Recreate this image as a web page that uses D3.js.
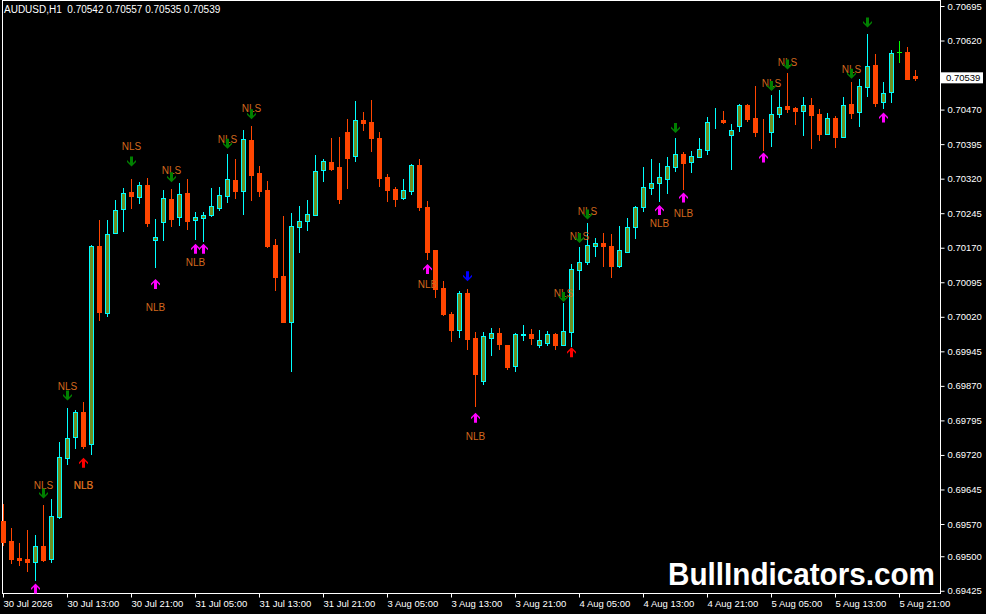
<!DOCTYPE html>
<html><head><meta charset="utf-8">
<script src="https://cdn.jsdelivr.net/npm/d3@7"></script>
<style>html,body{margin:0;padding:0;background:#000;overflow:hidden}</style>
</head><body>
<svg id="c" width="986" height="614"></svg>
<script>
const symbolTitle = "AUDUSD,H1  0.70542 0.70557 0.70535 0.70539";
const watermark = "BullIndicators.com";
const currentPrice = 0.70539;

const xTickBars = [0,8,16,24,32,40,48,56,64,72,80,88,96,104,112];
const xTickLabels = ["30 Jul 2026","30 Jul 13:00","30 Jul 21:00","31 Jul 05:00","31 Jul 13:00","31 Jul 21:00","3 Aug 05:00","3 Aug 13:00","3 Aug 21:00","4 Aug 05:00","4 Aug 13:00","4 Aug 21:00","5 Aug 05:00","5 Aug 13:00","5 Aug 21:00"];
const yTickValues = [0.70695,0.70620,0.70470,0.70395,0.70320,0.70245,0.70170,0.70095,0.70020,0.69945,0.69870,0.69795,0.69720,0.69645,0.69570,0.69500,0.69425];

const opens = [0.69577,0.69533,0.69496,0.69494,0.69488,0.69522,0.69494,0.69586,0.69714,0.69758,
0.69813,0.69744,0.70174,0.70029,0.70202,0.70254,0.70291,0.70281,0.70306,0.70186,
0.70225,0.70276,0.70236,0.70289,0.70231,0.70235,0.70240,0.70257,0.70283,0.70317,
0.70294,0.70404,0.70332,0.70295,0.70176,0.70109,0.70009,0.70214,0.70227,0.70242,
0.70338,0.70356,0.70345,0.70421,0.70370,0.70447,0.70443,0.70408,0.70324,0.70298,
0.70279,0.70294,0.70350,0.70258,0.70165,0.70083,0.70027,0.69992,0.70072,0.69974,
0.69881,0.69975,0.69985,0.69959,0.69914,0.69981,0.69983,0.69959,0.69964,0.69983,
0.69959,0.69986,0.70122,0.70138,0.70174,0.70180,0.70174,0.70131,0.70161,0.70214,
0.70259,0.70300,0.70311,0.70320,0.70346,0.70374,0.70357,0.70368,0.70383,0.70445,
0.70447,0.70415,0.70435,0.70481,0.70452,0.70424,0.70421,0.70460,0.70477,0.70473,
0.70468,0.70479,0.70460,0.70418,0.70451,0.70411,0.70482,0.70464,0.70518,0.70567,
0.70486,0.70508,0.70594,0.70595,0.70542];
const highs = [0.69613,0.69561,0.69529,0.69557,0.69546,0.69611,0.69624,0.69748,0.69822,0.69818,
0.69835,0.70176,0.70230,0.70230,0.70274,0.70300,0.70319,0.70313,0.70321,0.70232,
0.70295,0.70298,0.70310,0.70319,0.70248,0.70248,0.70300,0.70302,0.70374,0.70363,
0.70426,0.70434,0.70347,0.70315,0.70189,0.70239,0.70245,0.70261,0.70274,0.70371,
0.70363,0.70408,0.70410,0.70450,0.70489,0.70465,0.70491,0.70421,0.70330,0.70302,
0.70319,0.70352,0.70363,0.70271,0.70165,0.70098,0.70030,0.70076,0.70080,0.69987,
0.69986,0.69996,0.69996,0.69959,0.69984,0.70002,0.69994,0.69991,0.69989,0.69985,
0.70050,0.70135,0.70172,0.70224,0.70191,0.70202,0.70200,0.70217,0.70235,0.70260,
0.70345,0.70363,0.70354,0.70367,0.70408,0.70378,0.70380,0.70408,0.70454,0.70473,
0.70467,0.70438,0.70483,0.70483,0.70521,0.70450,0.70501,0.70513,0.70549,0.70476,
0.70497,0.70495,0.70471,0.70462,0.70456,0.70497,0.70530,0.70536,0.70634,0.70591,
0.70531,0.70600,0.70619,0.70605,0.70557];
const lows = [0.69524,0.69486,0.69481,0.69468,0.69448,0.69490,0.69488,0.69584,0.69701,0.69734,
0.69736,0.69723,0.70014,0.70022,0.70202,0.70207,0.70257,0.70267,0.70217,0.70129,
0.70187,0.70218,0.70220,0.70211,0.70189,0.70185,0.70239,0.70252,0.70270,0.70279,
0.70243,0.70274,0.70282,0.70172,0.70078,0.70008,0.69903,0.70161,0.70209,0.70240,
0.70316,0.70339,0.70268,0.70300,0.70359,0.70426,0.70380,0.70303,0.70272,0.70261,
0.70276,0.70287,0.70253,0.70146,0.70062,0.70024,0.69968,0.69977,0.69951,0.69827,
0.69874,0.69936,0.69950,0.69907,0.69902,0.69970,0.69962,0.69954,0.69959,0.69951,
0.69958,0.69957,0.70081,0.70135,0.70152,0.70131,0.70107,0.70129,0.70160,0.70192,
0.70250,0.70287,0.70271,0.70289,0.70337,0.70298,0.70334,0.70366,0.70374,0.70430,
0.70441,0.70342,0.70424,0.70446,0.70413,0.70382,0.70392,0.70453,0.70465,0.70439,
0.70415,0.70387,0.70405,0.70417,0.70389,0.70410,0.70452,0.70435,0.70500,0.70478,
0.70474,0.70487,0.70573,0.70536,0.70535];
const closes = [0.69531,0.69494,0.69492,0.69488,0.69522,0.69492,0.69587,0.69716,0.69757,0.69813,
0.69739,0.70174,0.70031,0.70200,0.70252,0.70289,0.70283,0.70306,0.70224,0.70193,
0.70278,0.70233,0.70286,0.70229,0.70237,0.70241,0.70261,0.70284,0.70319,0.70293,
0.70406,0.70328,0.70293,0.70174,0.70107,0.70009,0.70217,0.70227,0.70243,0.70337,
0.70358,0.70341,0.70276,0.70365,0.70447,0.70441,0.70408,0.70322,0.70296,0.70276,
0.70295,0.70350,0.70259,0.70161,0.70081,0.70025,0.69992,0.70071,0.69972,0.69896,
0.69978,0.69984,0.69960,0.69911,0.69983,0.69982,0.69975,0.69970,0.69983,0.69959,
0.69989,0.70124,0.70139,0.70177,0.70180,0.70174,0.70130,0.70165,0.70215,0.70258,
0.70302,0.70311,0.70324,0.70347,0.70374,0.70355,0.70369,0.70384,0.70443,0.70446,
0.70442,0.70426,0.70481,0.70450,0.70422,0.70423,0.70460,0.70475,0.70472,0.70468,
0.70479,0.70458,0.70418,0.70451,0.70410,0.70480,0.70463,0.70521,0.70564,0.70485,
0.70506,0.70593,0.70594,0.70537,0.70539];

// signal arrows: bar index, price, kind
const arrowBars   = [5,8,16,21,28,31,70,72,73,84,96,98,106,108, 4,19,24,25,53,59,82,85,95,110, 10,71, 58];
const arrowPrices = [0.69636,0.69849,0.70357,0.70323,0.70396,0.70460,0.70063,0.70191,0.70242,0.70430,0.70521,0.70568,0.70548,0.70659,
                     0.69430,0.70091,0.70168,0.70168,0.70124,0.69801,0.70252,0.70279,0.70366,0.70453,
                     0.69703,0.69943, 0.70108];
const arrowKinds  = ["sell","sell","sell","sell","sell","sell","sell","sell","sell","sell","sell","sell","sell","sell",
                     "buy","buy","buy","buy","buy","buy","buy","buy","buy","buy",
                     "buyRed","buyRed","sellBlue"];

// text labels: bar index, price, text
const labelBars   = [5,8,10,10,16,21,19,24,28,31,53,59,70,72,73,82,85,96,98,106];
const labelPrices = [0.69653,0.69868,0.69653,0.69653,0.70390,0.70338,0.70041,0.70137,0.70404,0.70473,0.70091,0.69761,0.70070,0.70195,0.70248,0.70222,0.70245,0.70526,0.70573,0.70557];
const labelTexts  = ["NLS","NLS","NLS","NLB","NLS","NLS","NLB","NLB","NLS","NLS","NLB","NLB","NLS","NLS","NLS","NLB","NLB","NLS","NLS","NLS"];

const svg = d3.select("#c");
const FONT = "'Liberation Sans', Arial, sans-serif";
const x = d3.scaleLinear().domain([0, 114]).range([3, 915]);
const y = d3.scaleLinear().domain([0.69418, 0.70708]).range([594, 0]);

svg.append("rect").attr("width",986).attr("height",614).attr("fill","#000");

// frame
svg.append("rect").attr("x",2.5).attr("y",0.5).attr("width",938).attr("height",593)
  .attr("fill","none").attr("stroke","#fff").attr("stroke-width",1);

// candles
const bars = d3.range(opens.length).map(i => ({i, o:opens[i], h:highs[i], l:lows[i], c:closes[i]}));
const g = svg.append("g");
bars.forEach(d => {
  const cx = Math.round(x(d.i));
  const doji = d.o === d.c;
  const bull = d.c > d.o;
  const col = doji ? "#00ff00" : (bull ? "#00ffff" : "#ff4500");
  g.append("line").attr("x1",cx+0.5).attr("x2",cx+0.5)
    .attr("y1",Math.round(y(d.h))).attr("y2",Math.round(y(d.l))+1)
    .attr("stroke",col).attr("stroke-width",1);
  const top = Math.round(y(Math.max(d.o,d.c)));
  const bot = Math.round(y(Math.min(d.o,d.c)));
  if (doji) {
    g.append("line").attr("x1",cx-2).attr("x2",cx+3).attr("y1",top+0.5).attr("y2",top+0.5)
      .attr("stroke",col).attr("stroke-width",1);
  } else {
    g.append("rect").attr("x",cx-1.5).attr("y",top+0.5).attr("width",4).attr("height",Math.max(0,bot-top))
      .attr("fill", bull ? "#6b8e23" : "#ff4500").attr("stroke", col).attr("stroke-width",1);
  }
});

// labels
svg.append("g").selectAll("text").data(labelTexts).join("text")
  .attr("x",(t,i)=>x(labelBars[i])+0.5).attr("y",(t,i)=>y(labelPrices[i]))
  .attr("text-anchor","middle").attr("dominant-baseline","central")
  .attr("font-family",FONT).attr("font-size",10).attr("fill","#d2691e").text(t=>t);

// arrows
const upPath = "M0,-5 L4.5,-0.5 L4.5,1.5 L1.5,-1.5 L1.5,5 L-1.5,5 L-1.5,-1.5 L-4.5,1.5 L-4.5,-0.5 Z";
const kindColor = {sell:"#008000", buy:"#ff00ff", buyRed:"#ff0000", sellBlue:"#0000ff"};
svg.append("g").selectAll("path").data(arrowKinds).join("path")
  .attr("d",upPath)
  .attr("transform",(k,i)=>`translate(${x(arrowBars[i])+0.5},${y(arrowPrices[i])})` + ((k==="sell"||k==="sellBlue") ? " scale(1,-1)" : ""))
  .attr("fill",k=>kindColor[k]);

// y axis
const ya = svg.append("g").attr("transform","translate(940.5,0)")
  .call(d3.axisRight(y).tickValues(yTickValues).tickSize(4).tickPadding(3).tickFormat(d3.format(".5f")));
ya.select(".domain").remove();
ya.selectAll("line").attr("stroke","#fff");
ya.selectAll("text").attr("fill","#fff").attr("font-family",FONT).attr("font-size",9.5);

// current price box
const cpY = y(currentPrice);
svg.append("rect").attr("x",941).attr("y",cpY-5.5).attr("width",42).attr("height",11).attr("fill","#fff");
svg.append("text").attr("x",946).attr("y",cpY).attr("dominant-baseline","central")
  .attr("font-family",FONT).attr("font-size",9.5).attr("fill","#000").text(d3.format(".5f")(currentPrice));

// x axis
const xa = svg.append("g").attr("transform","translate(0,593.5)")
  .call(d3.axisBottom(x).tickValues(xTickBars).tickSize(4).tickPadding(3).tickFormat((d,i)=>xTickLabels[i]));
xa.select(".domain").remove();
xa.selectAll("line").attr("stroke","#fff");
xa.selectAll("text").attr("fill","#fff").attr("text-anchor","start")
  .attr("font-family",FONT).attr("font-size",9.5);

// title
svg.append("text").attr("x",4).attr("y",13).attr("font-family",FONT).attr("font-size",10)
  .attr("fill","#fff").attr("xml:space","preserve").style("white-space","pre").text(symbolTitle);

// watermark
svg.append("text").attr("x",668).attr("y",585).attr("font-family",FONT).attr("font-weight","bold")
  .attr("font-size",31).attr("fill","#fff").attr("textLength",267).attr("lengthAdjust","spacingAndGlyphs")
  .text(watermark);
</script>
</body></html>
